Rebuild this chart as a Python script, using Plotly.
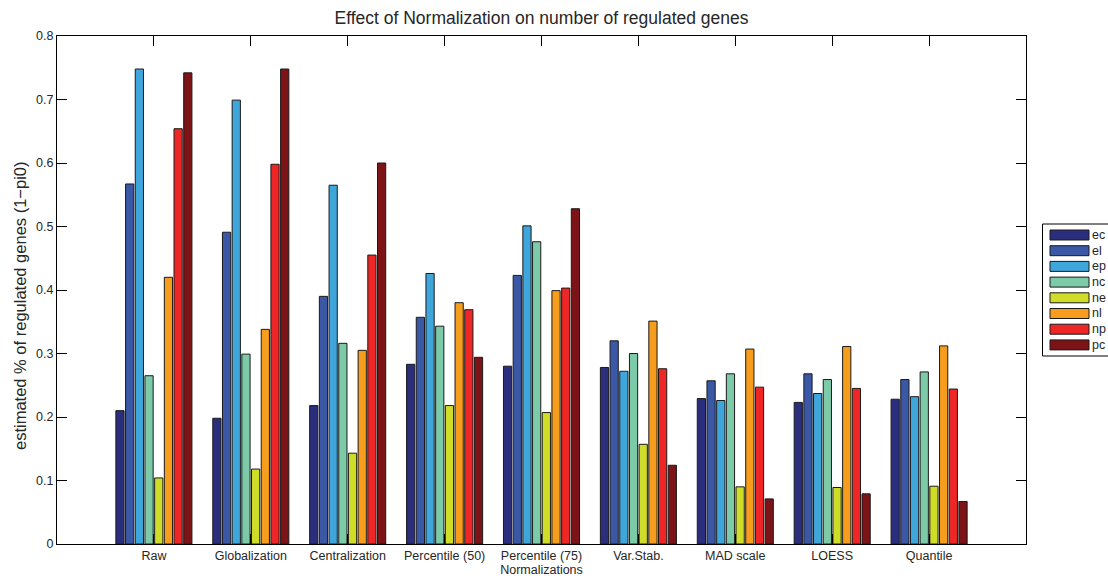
import plotly.graph_objects as go

# Normalization methods (x categories)
methods = ["Raw", "Globalization", "Centralization", "Percentile (50)",
           "Percentile (75)", "Var.Stab.", "MAD scale", "LOESS", "Quantile"]

# Estimated fraction of regulated genes (1-pi0) per dataset
ec = [0.210, 0.198, 0.218, 0.283, 0.280, 0.278, 0.229, 0.223, 0.228]
el = [0.567, 0.491, 0.390, 0.357, 0.423, 0.320, 0.257, 0.268, 0.259]
ep = [0.748, 0.699, 0.565, 0.426, 0.501, 0.272, 0.226, 0.237, 0.232]
nc = [0.265, 0.299, 0.316, 0.343, 0.476, 0.300, 0.268, 0.259, 0.271]
ne = [0.104, 0.118, 0.143, 0.218, 0.207, 0.157, 0.090, 0.089, 0.091]
nl = [0.420, 0.338, 0.305, 0.380, 0.399, 0.351, 0.307, 0.311, 0.312]
np_ = [0.654, 0.598, 0.455, 0.369, 0.403, 0.276, 0.247, 0.245, 0.244]
pc = [0.742, 0.748, 0.600, 0.294, 0.528, 0.124, 0.071, 0.079, 0.067]

series_names = ["ec", "el", "ep", "nc", "ne", "nl", "np", "pc"]
series_values = [ec, el, ep, nc, ne, nl, np_, pc]
series_colors = ["#2a2e7d", "#3b58a6", "#3fa6dc", "#7dcaa9",
                 "#cfdc28", "#f69d1d", "#ee2625", "#7b1317"]

FONT = "Liberation Sans, Arial, sans-serif"
TXT = "#262626"
TICK_SIZE = 12.5

W, H = 1108, 578
ML, MR, MT, MB = 57, 82, 36, 34
PW, PH = W - ML - MR, H - MT - MB


def px(x):
    return (x - ML) / PW


def py(y):
    return (H - MB - y) / PH


fig = go.Figure()
for name, vals, col in zip(series_names, series_values, series_colors):
    fig.add_trace(go.Bar(
        x=methods, y=vals, name=name,
        marker=dict(color=col, line=dict(color="#1a1a1a", width=1)),
        showlegend=False,
    ))

# Boxed legend with wide swatches, right of the axes
shapes = [dict(type="rect", xref="paper", yref="paper",
               x0=px(1042.5), x1=px(1120), y0=py(356), y1=py(224),
               line=dict(color="#000000", width=1), fillcolor="white")]
annotations = []
row0, step = 235, 15.7
for i, (name, col) in enumerate(zip(series_names, series_colors)):
    yc = row0 + i * step
    shapes.append(dict(type="rect", xref="paper", yref="paper",
                       x0=px(1050), x1=px(1089), y0=py(yc + 5), y1=py(yc - 5),
                       line=dict(color="#1a1a1a", width=1), fillcolor=col))
    annotations.append(dict(xref="paper", yref="paper", x=px(1090), y=py(yc),
                            text=name, showarrow=False, xanchor="left",
                            yanchor="middle",
                            font=dict(family=FONT, size=TICK_SIZE, color=TXT)))

# Rotated y-axis label
annotations.append(dict(xref="paper", yref="paper", x=px(20), y=py(306),
                        text="estimated % of regulated genes (1\u2212pi0)",
                        textangle=-90, showarrow=False,
                        xanchor="center", yanchor="middle",
                        font=dict(family=FONT, size=16.5, color=TXT)))

fig.update_layout(
    width=W, height=H,
    margin=dict(l=ML, r=MR, t=MT, b=MB, autoexpand=False),
    paper_bgcolor="white", plot_bgcolor="white",
    barmode="group", bargap=0.2, bargroupgap=0.15,
    title=dict(text="Effect of Normalization on number of regulated genes",
               xref="paper", x=0.5, xanchor="center",
               yref="container", y=1 - 18 / H, yanchor="middle",
               font=dict(family=FONT, size=17.5, color=TXT)),
    font=dict(family=FONT, size=TICK_SIZE, color=TXT),
    shapes=shapes, annotations=annotations,
)

fig.update_xaxes(
    type="category", range=[-1, 9],
    showline=True, mirror="ticks", linecolor="#000000", linewidth=1,
    ticks="inside", ticklen=10, tickcolor="#000000",
    showgrid=False, zeroline=False,
    tickfont=dict(family=FONT, size=TICK_SIZE, color=TXT),
    title=dict(text="Normalizations", standoff=1,
               font=dict(family=FONT, size=TICK_SIZE, color=TXT)),
)
fig.update_yaxes(
    range=[0, 0.8], tickvals=[0, 0.1, 0.2, 0.3, 0.4, 0.5, 0.6, 0.7, 0.8],
    ticktext=["0", "0.1", "0.2", "0.3", "0.4", "0.5", "0.6", "0.7", "0.8"],
    showline=True, mirror="ticks", linecolor="#000000", linewidth=1,
    ticks="inside", ticklen=10, tickcolor="#000000",
    showgrid=False, zeroline=False,
    tickfont=dict(family=FONT, size=TICK_SIZE, color=TXT),
)

fig.write_html("out.html")
